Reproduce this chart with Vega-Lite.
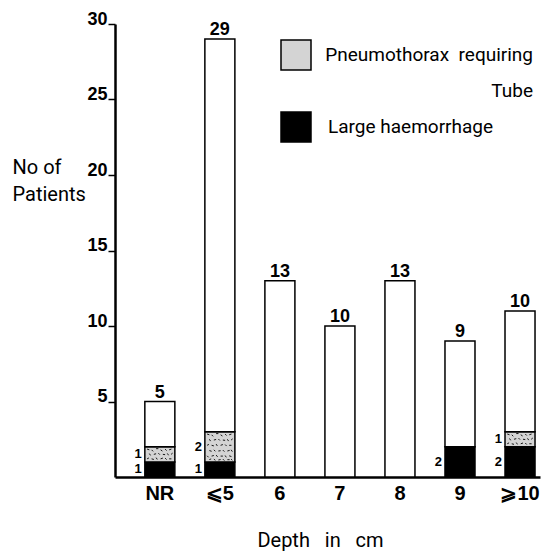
{
  "$schema": "https://vega.github.io/schema/vega-lite/v6.json",
  "width": 425,
  "height": 453,
  "autosize": {"type": "none"},
  "padding": {"left": 115, "top": 24, "right": 2, "bottom": 76},
  "background": "white",
  "config": {
    "view": {"stroke": null},
    "font": "Roboto",
    "axis": {"labelColor": "black", "titleColor": "black", "domainColor": "black", "tickColor": "black", "grid": false},
    "legend": {"labelColor": "black"}
  },
  "data": {
    "values": [
      {"cat": "NR", "type": "Large haemorrhage", "n": 1, "ord": 1, "total": "5"},
      {"cat": "NR", "type": "Pneumothorax requiring Tube", "n": 1, "ord": 2, "total": "5"},
      {"cat": "NR", "type": "rest", "n": 3, "ord": 3, "total": "5"},
      {"cat": "⩽5", "type": "Large haemorrhage", "n": 1, "ord": 1, "total": "29"},
      {"cat": "⩽5", "type": "Pneumothorax requiring Tube", "n": 2, "ord": 2, "total": "29"},
      {"cat": "⩽5", "type": "rest", "n": 26, "ord": 3, "total": "29"},
      {"cat": "6", "type": "rest", "n": 13, "ord": 3, "total": "13"},
      {"cat": "7", "type": "rest", "n": 10, "ord": 3, "total": "10"},
      {"cat": "8", "type": "rest", "n": 13, "ord": 3, "total": "13"},
      {"cat": "9", "type": "Large haemorrhage", "n": 2, "ord": 1, "total": "9"},
      {"cat": "9", "type": "rest", "n": 7, "ord": 3, "total": "9"},
      {"cat": "⩾10", "type": "Large haemorrhage", "n": 2, "ord": 1, "total": "10"},
      {"cat": "⩾10", "type": "Pneumothorax requiring Tube", "n": 1, "ord": 2, "total": "10"},
      {"cat": "⩾10", "type": "rest", "n": 8, "ord": 3, "total": "10"}
    ]
  },
  "transform": [
    {"stack": "n", "groupby": ["cat"], "sort": [{"field": "ord", "order": "ascending"}], "as": ["lo", "hi"]},
    {"calculate": "(datum.lo + datum.hi) / 2", "as": "mid"}
  ],
  "encoding": {
    "x": {
      "field": "cat",
      "type": "nominal",
      "sort": ["NR", "⩽5", "6", "7", "8", "9", "⩾10"],
      "scale": {"paddingInner": 0.5, "paddingOuter": 0.29, "align": 0.857},
      "axis": {
        "title": "Depth\u00a0\u00a0\u00a0in\u00a0\u00a0\u00a0cm",
        "titleFont": "Roboto",
        "titleFontSize": 20,
        "titleFontWeight": "normal",
        "titleX": 205,
        "titleY": 69,
        "titleAlign": "center",
        "titleBaseline": "alphabetic",
        "labelAngle": 0,
        "labelFont": "Liberation Sans",
        "labelFontSize": 20,
        "labelFontWeight": "bold",
        "labelPadding": 6,
        "ticks": false,
        "domainWidth": 2.5
      }
    }
  },
  "layer": [
    {
      "mark": {"type": "bar", "stroke": "black", "strokeWidth": 1.5},
      "encoding": {
        "y": {
          "field": "lo",
          "type": "quantitative",
          "scale": {"domain": [0, 30], "nice": false},
          "axis": {
            "values": [5, 10, 15, 20, 25, 30],
            "title": ["No of", "Patients"],
            "titleAngle": 0,
            "titleAlign": "left",
            "titleBaseline": "alphabetic",
            "titleX": -103,
            "titleY": 149,
            "titleFont": "Roboto",
            "titleFontSize": 20,
            "titleFontWeight": "normal",
            "titleLineHeight": 27,
            "labelFont": "Liberation Sans",
            "labelFontSize": 18,
            "labelFontWeight": "bold",
            "labelBaseline": "alphabetic",
            "labelPadding": 1,
            "tickSize": 7,
            "tickWidth": 1.5,
            "domainWidth": 2.5
          }
        },
        "y2": {"field": "hi"},
        "fill": {
          "condition": {"test": "datum.type === 'rest'", "value": "white"},
          "field": "type",
          "type": "nominal",
          "scale": {"domain": ["Pneumothorax requiring Tube", "Large haemorrhage"], "range": ["#d4d4d4", "black"]},
          "legend": {
            "orient": "none",
            "legendX": 165,
            "legendY": 15,
            "title": null,
            "symbolType": "square",
            "symbolSize": 900,
            "symbolStrokeColor": "black",
            "symbolStrokeWidth": 1.5,
            "labelFont": "Roboto",
            "labelFontSize": 19,
            "labelOffset": 16,
            "labelLimit": 0,
            "labelBaseline": "middle",
            "rowPadding": 8,
            "encode": {
              "labels": {
                "update": {
                  "lineHeight": {"value": 36},
                  "align": {"signal": "datum.value === 'Pneumothorax requiring Tube' ? 'right' : 'left'"},
                  "dx": {"signal": "datum.value === 'Pneumothorax requiring Tube' ? 205 : 0"}
                }
              }
            },
            "labelExpr": "datum.value === 'Pneumothorax requiring Tube' ? ['Pneumothorax\u00a0 requiring', 'Tube'] : datum.label"
          }
        }
      }
    },
    {
      "transform": [{"filter": "datum.type === 'Pneumothorax requiring Tube'"}],
      "mark": {"type": "point", "filled": false, "stroke": "black", "strokeWidth": 0.9, "size": 900, "opacity": 1},
      "encoding": {
        "y": {"field": "mid", "type": "quantitative"},
        "shape": {
          "field": "n",
          "type": "nominal",
          "scale": {
            "domain": [1, 2],
            "range": [
              "M-0.85,-0.35l0.15,0.05M-0.55,-0.3l0.1,0.1M-0.25,-0.38l0.15,0M0.05,-0.3l0.12,0.08M0.35,-0.35l0.1,0.1M0.62,-0.3l0.15,-0.05M-0.7,-0.05l0.08,0.12M-0.4,0l0.15,-0.04M-0.1,-0.08l0.1,0.1M0.2,0l0.15,0.02M0.5,-0.06l0.08,0.12M0.75,0l0.1,-0.08M-0.85,0.3l0.12,-0.06M-0.55,0.3l0.15,0.04M-0.25,0.22l0.08,0.12M0.05,0.3l0.15,-0.05M0.35,0.25l0.1,0.1M0.62,0.3l0.15,0",
              "M-0.85,-0.85l0.15,0.05M-0.55,-0.8l0.1,0.1M-0.25,-0.88l0.15,0M0.05,-0.8l0.12,0.08M0.35,-0.85l0.1,0.1M0.62,-0.8l0.15,-0.05M-0.7,-0.5l0.08,0.12M-0.4,-0.45l0.15,-0.04M-0.1,-0.52l0.1,0.1M0.2,-0.45l0.15,0.02M0.5,-0.5l0.08,0.12M0.75,-0.45l0.1,-0.08M-0.85,-0.1l0.12,-0.06M-0.55,-0.1l0.15,0.04M-0.25,-0.18l0.08,0.12M0.05,-0.1l0.15,-0.05M0.35,-0.15l0.1,0.1M0.62,-0.1l0.15,0M-0.7,0.25l0.15,0.05M-0.4,0.2l0.1,0.1M-0.1,0.28l0.15,-0.02M0.2,0.22l0.1,0.1M0.5,0.28l0.15,-0.04M0.75,0.2l0.08,0.12M-0.85,0.6l0.1,0.1M-0.55,0.62l0.15,-0.04M-0.25,0.55l0.1,0.12M0.05,0.62l0.15,0M0.35,0.58l0.08,0.12M0.62,0.6l0.15,0.05M-0.7,0.85l0.12,-0.04M-0.4,0.82l0.1,0.08M-0.1,0.88l0.15,-0.03M0.2,0.82l0.1,0.1M0.5,0.86l0.15,0M0.75,0.82l0.08,0.08"
            ]
          },
          "legend": null
        }
      }
    },
    {
      "transform": [{"filter": "datum.type !== 'rest'"}],
      "mark": {"type": "text", "align": "right", "baseline": "middle", "dx": -3, "font": "Liberation Sans", "fontSize": 13, "fontWeight": "bold", "color": "black"},
      "encoding": {
        "x": {"field": "cat", "type": "nominal", "sort": ["NR", "⩽5", "6", "7", "8", "9", "⩾10"], "bandPosition": 0},
        "y": {"field": "mid", "type": "quantitative"},
        "text": {"field": "n", "type": "quantitative"}
      }
    },
    {
      "transform": [{"filter": "datum.type === 'rest'"}],
      "mark": {"type": "text", "align": "center", "baseline": "alphabetic", "dy": -4, "font": "Liberation Sans", "fontSize": 18, "fontWeight": "bold", "color": "black"},
      "encoding": {
        "y": {"field": "hi", "type": "quantitative"},
        "text": {"field": "total", "type": "nominal"}
      }
    }
  ]
}
